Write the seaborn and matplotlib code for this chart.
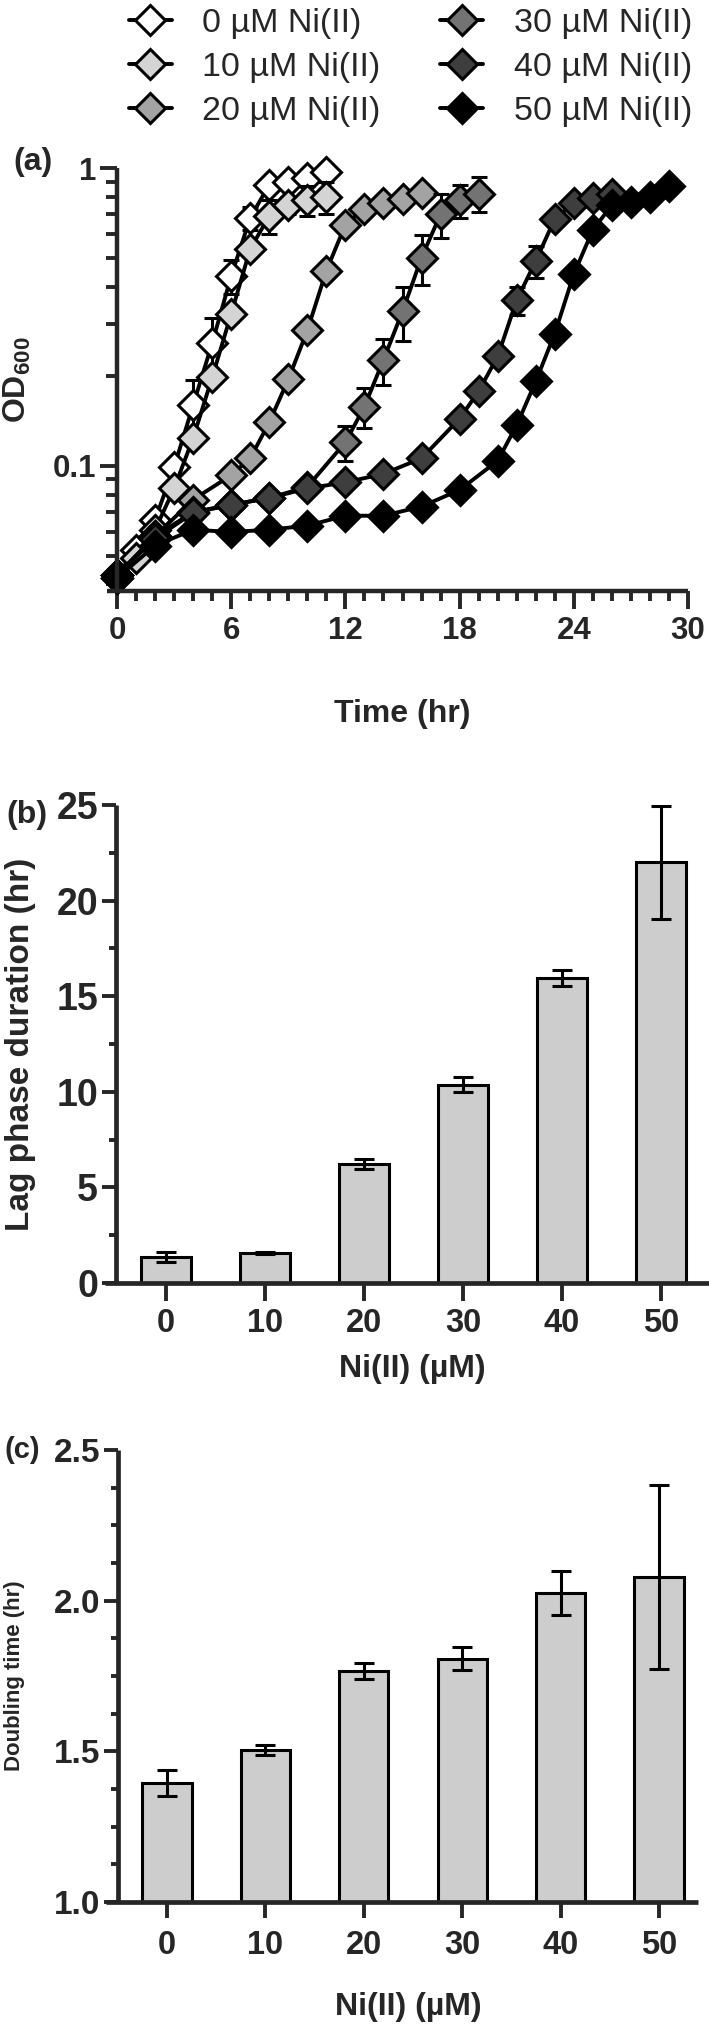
import numpy as np
import matplotlib
matplotlib.use('Agg')
from matplotlib import pyplot as plt
from matplotlib import ticker
from matplotlib.lines import Line2D
import seaborn as sns

# growth curves (a): time (hr), mean OD600 and sd for each Ni(II) level
t_0 = [0, 1, 2, 3, 4, 5, 6, 7, 8, 9, 10, 11]
od_0 = [0.043, 0.052, 0.066, 0.099, 0.16, 0.258, 0.434, 0.68, 0.88, 0.90, 0.925, 0.97]
sd_0 = [0.001, 0.002, 0.003, 0.005, 0.034, 0.056, 0.056, 0.06, 0.02, 0.03, 0.02, 0.02]

t_10 = [0, 1, 2, 3, 4, 5, 6, 7, 8, 9, 10, 11]
od_10 = [0.042, 0.049, 0.061, 0.084, 0.124, 0.198, 0.324, 0.535, 0.69, 0.75, 0.78, 0.80]
sd_10 = [0.001, 0.002, 0.002, 0.003, 0.005, 0.01, 0.02, 0.03, 0.09, 0.05, 0.09, 0.1]

t_20 = [0, 2, 4, 6, 7, 8, 9, 10, 11, 12, 13, 14, 15, 16]
od_20 = [0.043, 0.058, 0.077, 0.093, 0.106, 0.14, 0.195, 0.285, 0.452, 0.645, 0.73, 0.76, 0.785, 0.825]
sd_20 = [0.001, 0.002, 0.002, 0.003, 0.003, 0.004, 0.005, 0.008, 0.01, 0.015, 0.02, 0.02, 0.02, 0.02]

t_30 = [0, 2, 4, 6, 8, 10, 12, 13, 14, 15, 16, 17, 18, 19]
od_30 = [0.043, 0.058, 0.070, 0.074, 0.078, 0.085, 0.12, 0.158, 0.227, 0.33, 0.50, 0.70, 0.78, 0.82]
sd_30 = [0.001, 0.002, 0.002, 0.002, 0.003, 0.004, 0.016, 0.024, 0.04, 0.067, 0.095, 0.12, 0.10, 0.11]

t_40 = [0, 2, 4, 6, 8, 10, 12, 14, 16, 18, 19, 20, 21, 22, 23, 24, 25, 26]
od_40 = [0.043, 0.057, 0.0695, 0.074, 0.078, 0.084, 0.088, 0.094, 0.106, 0.144, 0.178, 0.233, 0.36, 0.487, 0.675, 0.76, 0.79, 0.82]
sd_40 = [0.001, 0.002, 0.002, 0.002, 0.002, 0.002, 0.003, 0.003, 0.004, 0.005, 0.006, 0.01, 0.04, 0.06, 0.03, 0.03, 0.03, 0.03]

t_50 = [0, 2, 4, 6, 8, 10, 12, 14, 16, 18, 20, 21, 22, 23, 24, 25, 26, 27, 28, 29]
od_50 = [0.042, 0.054, 0.061, 0.060, 0.061, 0.063, 0.068, 0.068, 0.073, 0.083, 0.104, 0.137, 0.192, 0.278, 0.44, 0.62, 0.75, 0.77, 0.80, 0.87]
sd_50 = [0.001, 0.002, 0.002, 0.002, 0.002, 0.002, 0.002, 0.002, 0.003, 0.003, 0.004, 0.005, 0.008, 0.01, 0.02, 0.02, 0.02, 0.02, 0.02, 0.02]

legend_labels = ['0 µM Ni(II)', '10 µM Ni(II)', '20 µM Ni(II)',
                 '30 µM Ni(II)', '40 µM Ni(II)', '50 µM Ni(II)']
marker_colors = ['#ffffff', '#d4d4d4', '#a3a3a3', '#737373', '#3e3e3e', '#000000']

# bar panels (b) and (c)
conc = ['0', '10', '20', '30', '40', '50']
lag_mean = [1.37, 1.58, 6.21, 10.38, 15.94, 22.0]
lag_err = [0.25, 0.05, 0.27, 0.4, 0.42, 2.95]
dbl_mean = [1.395, 1.505, 1.766, 1.807, 2.025, 2.078]
dbl_err = [0.043, 0.017, 0.026, 0.038, 0.072, 0.305]

sns.set_style('ticks')
plt.rcParams['font.family'] = ['Liberation Sans', 'DejaVu Sans']
plt.rcParams['font.weight'] = 'bold'
plt.rcParams['axes.labelweight'] = 'bold'
plt.rcParams['mathtext.fontset'] = 'custom'
plt.rcParams['mathtext.rm'] = 'Liberation Sans:bold'
plt.rcParams['mathtext.it'] = 'Liberation Sans:bold'
plt.rcParams['mathtext.bf'] = 'Liberation Sans:bold'

W, H = 709, 2036
fig = plt.figure(figsize=(W / 100, H / 100), dpi=100)


def box(left, right, top, bottom):
    # pixel box -> figure fraction
    return [left / W, 1 - bottom / H, (right - left) / W, (bottom - top) / H]


def style_axes(ax, lw):
    sns.despine(ax=ax)
    for s in ['left', 'bottom']:
        ax.spines[s].set_linewidth(lw)
        ax.spines[s].set_capstyle('butt')


# ---- (a) growth curves ----
ax1 = fig.add_axes(box(117, 688, 168, 591))
series = [(t_0, od_0, sd_0), (t_10, od_10, sd_10), (t_20, od_20, sd_20),
          (t_30, od_30, sd_30), (t_40, od_40, sd_40), (t_50, od_50, sd_50)]
for (t, od, sd), fc in zip(series, marker_colors):
    ax1.errorbar(t, od, yerr=sd, fmt='none', ecolor='black', elinewidth=2.2,
                 capsize=6, capthick=2.2, clip_on=False)
    sns.lineplot(x=t, y=od, ax=ax1, color='black', linewidth=2.8, marker='D',
                 markersize=15.5, markerfacecolor=fc, markeredgecolor='black',
                 markeredgewidth=2.2, clip_on=False)

ax1.set_yscale('log')
ax1.set_ylim(0.038, 1)
ax1.set_xlim(0, 30)
ax1.set_xticks(range(0, 31, 6))
ax1.xaxis.set_minor_locator(ticker.MultipleLocator(1))
ax1.yaxis.set_major_locator(ticker.FixedLocator([0.1, 1]))
ax1.yaxis.set_major_formatter(ticker.FixedFormatter(['0.1', '1']))
ax1.yaxis.set_minor_locator(ticker.LogLocator(base=10, subs=np.arange(2, 10)))
ax1.yaxis.set_minor_formatter(ticker.NullFormatter())
style_axes(ax1, 3.2)
ax1.spines['bottom'].set_bounds(-0.5, 30)
ax1.tick_params(axis='both', which='major', width=2.8, labelsize=22.5)
ax1.tick_params(axis='y', which='major', length=12, pad=3)
ax1.tick_params(axis='y', which='minor', length=8, width=2.8)
ax1.tick_params(axis='x', which='major', length=13, pad=5)
ax1.tick_params(axis='x', which='minor', length=7, width=2.8)
ax1.set_xlabel('Time (hr)', fontsize=23)
ax1.set_ylabel('OD$_{600}$', fontsize=23)
ax1.xaxis.set_label_coords(0.5, -0.255)
ax1.yaxis.set_label_coords(-0.147, 0.5)

handles = [Line2D([], [], color='black', lw=2.8, marker='D', markersize=15.5,
                  markerfacecolor=c, markeredgecolor='black', markeredgewidth=2.2)
           for c in marker_colors]
fig.legend(handles, legend_labels, ncol=2, loc='upper left',
           bbox_to_anchor=(129 / W, 1 - 8 / H), frameon=False,
           prop={'size': 24.5, 'weight': 'normal'}, handlelength=1.25,
           handletextpad=0.9, columnspacing=1.76, labelspacing=0.38,
           borderpad=0, borderaxespad=0)

# ---- (b) lag phase ----
ax2 = fig.add_axes(box(116, 709, 805, 1283))
sns.barplot(x=conc, y=lag_mean, ax=ax2, color='#cdcdcd', saturation=1,
            edgecolor='black', linewidth=2.2, width=0.5, errorbar=None)
ax2.errorbar(range(len(conc)), lag_mean, yerr=lag_err, fmt='none', ecolor='black',
             elinewidth=2.2, capsize=7.5, capthick=2.2)
ax2.set_xlim(-0.505, 5.485)
ax2.set_ylim(0, 25)
ax2.yaxis.set_major_locator(ticker.MultipleLocator(5))
ax2.yaxis.set_minor_locator(ticker.MultipleLocator(2.5))
style_axes(ax2, 3.4)
ax2.spines['bottom'].set_bounds(-0.62, 5.485)
ax2.tick_params(axis='y', which='major', length=10, width=2.8, labelsize=27, pad=3)
ax2.tick_params(axis='y', which='minor', length=5, width=2.8)
ax2.tick_params(axis='x', which='major', length=13, width=2.8, labelsize=23.5, pad=5)
ax2.set_xlabel('Ni(II) (µM)', fontsize=23)
ax2.set_ylabel('Lag phase duration (hr)', fontsize=24)
ax2.xaxis.set_label_coords(0.5, -0.148)
ax2.yaxis.set_label_coords(-0.135, 0.5)

# ---- (c) doubling time ----
ax3 = fig.add_axes(box(118, 698, 1450, 1902))
sns.barplot(x=conc, y=dbl_mean, ax=ax3, color='#cdcdcd', saturation=1,
            edgecolor='black', linewidth=2.2, width=0.5, errorbar=None)
ax3.errorbar(range(len(conc)), dbl_mean, yerr=dbl_err, fmt='none', ecolor='black',
             elinewidth=2.2, capsize=7.5, capthick=2.2)
ax3.set_xlim(-0.498, 5.396)
ax3.set_ylim(1.0, 2.5)
ax3.yaxis.set_major_locator(ticker.MultipleLocator(0.5))
ax3.yaxis.set_minor_locator(ticker.MultipleLocator(0.125))
ax3.yaxis.set_major_formatter(ticker.FormatStrFormatter('%.1f'))
style_axes(ax3, 3.4)
ax3.spines['bottom'].set_bounds(-0.62, 5.396)
ax3.tick_params(axis='y', which='major', length=10, width=2.8, labelsize=24, pad=3)
ax3.tick_params(axis='y', which='minor', length=5, width=2.8)
ax3.tick_params(axis='x', which='major', length=11.5, width=2.8, labelsize=23.5, pad=9)
ax3.set_xlabel('Ni(II) (µM)', fontsize=23)
ax3.set_ylabel('Doubling time (hr)', fontsize=16)
ax3.xaxis.set_label_coords(0.5, -0.2)
ax3.yaxis.set_label_coords(-0.160, 0.5)

# panel letters
fig.text(13 / W, 1 - 162 / H, '(a)', fontsize=23, va='center', ha='left')
fig.text(6 / W, 1 - 815 / H, '(b)', fontsize=23, va='center', ha='left')
fig.text(5 / W, 1 - 1450 / H, '(c)', fontsize=21, va='center', ha='left')

fig.savefig('out.png', dpi=100)
